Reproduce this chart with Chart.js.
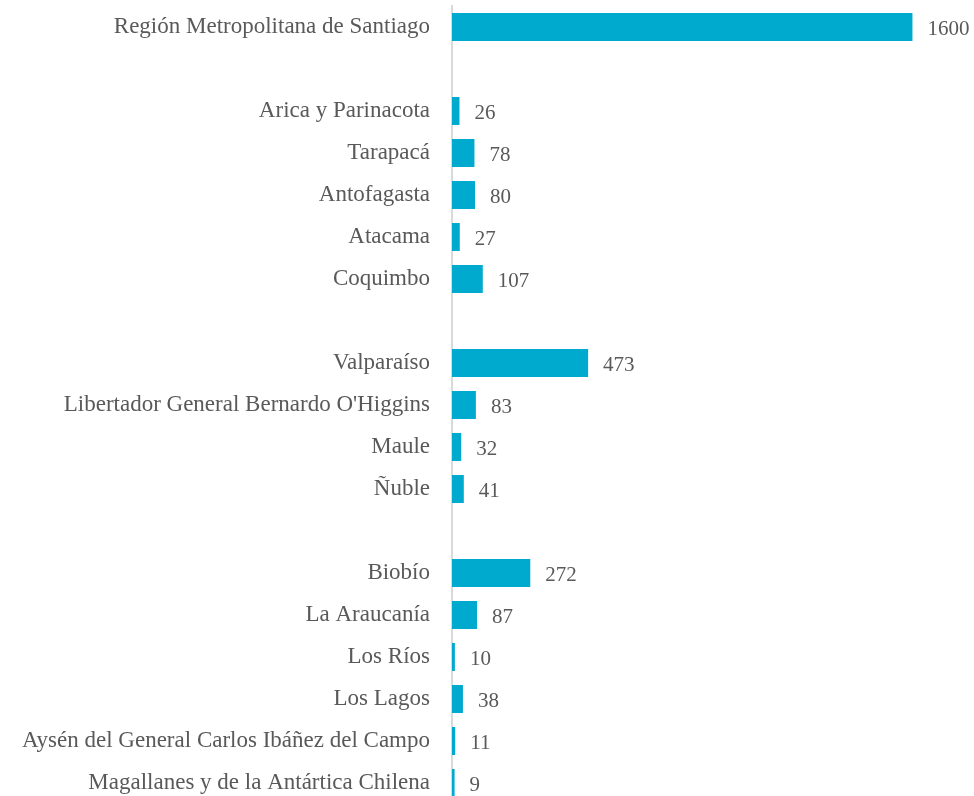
<!DOCTYPE html>
<html lang="es">
<head>
    <meta charset="UTF-8">
    <title>Regiones</title>
    <style>
        html, body {
            margin: 0;
            padding: 0;
            background: #ffffff;
            overflow: hidden;
        }
        .chart-container {
            width: 974px;
            height: 810px;
        }
    </style>
</head>
<body>
    <div class="chart-container">
        <canvas id="chart"></canvas>
    </div>

    <script src="https://cdn.jsdelivr.net/npm/chart.js"></script>

    <script>
      // empty strings are the blank spacer rows between groups
      const regions = [
          'Región Metropolitana de Santiago',
          '',
          'Arica y Parinacota',
          'Tarapacá',
          'Antofagasta',
          'Atacama',
          'Coquimbo',
          '',
          'Valparaíso',
          "Libertador General Bernardo O'Higgins",
          'Maule',
          'Ñuble',
          '',
          'Biobío',
          'La Araucanía',
          'Los Ríos',
          'Los Lagos',
          'Aysén del General Carlos Ibáñez del Campo',
          'Magallanes y de la Antártica Chilena'
      ];
      const counts = [1600, null, 26, 78, 80, 27, 107, null, 473, 83, 32, 41, null, 272, 87, 10, 38, 11, 9];

      const fontFamily = "'Liberation Serif', serif";
      const textColor = '#595959';

      // draws the value to the right of each bar
      const valueLabels = {
          id: 'valueLabels',
          afterDatasetsDraw(chart) {
              const ctx = chart.ctx;
              const meta = chart.getDatasetMeta(0);
              ctx.save();
              ctx.font = '21px ' + fontFamily;
              ctx.fillStyle = textColor;
              ctx.textAlign = 'left';
              ctx.textBaseline = 'middle';
              meta.data.forEach((bar, i) => {
                  const v = counts[i];
                  if (v === null) return;
                  ctx.fillText(String(v), bar.x + 15, bar.y + 2);
              });
              ctx.restore();
          }
      };

      new Chart(document.getElementById('chart').getContext('2d'), {
          type: 'bar',
          data: {
              labels: regions,
              datasets: [{
                  data: counts,
                  backgroundColor: '#00a9ce',
                  borderWidth: 0,
                  barPercentage: 28 / 42,
                  categoryPercentage: 1
              }]
          },
          options: {
              indexAxis: 'y',
              responsive: true,
              maintainAspectRatio: false,
              animation: false,
              layout: { padding: { top: 6, bottom: 6, right: 4, left: 0 } },
              plugins: {
                  legend: { display: false },
                  tooltip: { enabled: false }
              },
              scales: {
                  x: {
                      display: false,
                      min: 0,
                      max: 1800
                  },
                  y: {
                      afterFit(scale) {
                          scale.width = 452;
                          scale.paddingTop = 0;
                          scale.paddingBottom = 0;
                      },
                      grid: { display: false, drawTicks: false },
                      border: { display: true, color: '#d9d9d9', width: 2 },
                      ticks: {
                          padding: 22,
                          color: textColor,
                          font: { family: fontFamily, size: 23 }
                      }
                  }
              }
          },
          plugins: [valueLabels]
      });
    </script>
</body>
</html>
